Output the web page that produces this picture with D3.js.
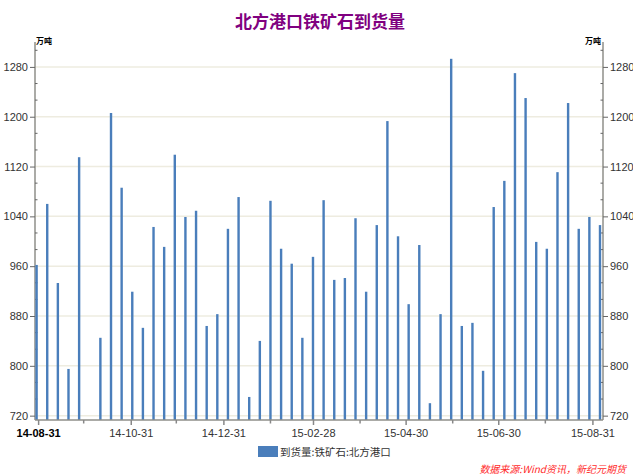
<!DOCTYPE html>
<html><head><meta charset="utf-8">
<script src="https://cdn.jsdelivr.net/npm/d3@7"></script>
<style>
html,body{margin:0;padding:0;background:#fff;}
svg{display:block;font-family:"Noto Sans","Noto Sans CJK SC",sans-serif;}
</style></head>
<body><svg id="c" width="633" height="475"></svg>
<script>
const dates = ["2014-08-30","2014-09-06","2014-09-13","2014-09-20","2014-09-27","2014-10-11","2014-10-18","2014-10-25","2014-11-01","2014-11-08","2014-11-15","2014-11-22","2014-11-29","2014-12-06","2014-12-13","2014-12-20","2014-12-27","2015-01-03","2015-01-10","2015-01-17","2015-01-24","2015-01-31","2015-02-07","2015-02-14","2015-02-21","2015-02-28","2015-03-07","2015-03-14","2015-03-21","2015-03-28","2015-04-04","2015-04-11","2015-04-18","2015-04-25","2015-05-02","2015-05-09","2015-05-16","2015-05-23","2015-05-30","2015-06-06","2015-06-13","2015-06-20","2015-06-27","2015-07-04","2015-07-11","2015-07-18","2015-07-25","2015-08-01","2015-08-08","2015-08-15","2015-08-22","2015-08-29","2015-09-05"];
const arrivals = [962,1060,933,795,1135,845,1206,1086,919,861,1023,991,1139,1039,1049,864,883,1020,1071,750,840,1065,988,964,845,975,1066,938,941,1037,919,1026,1193,1008,899,994,740,883,1293,864,869,792,1055,1097,1270,1230,999,988,1111,1222,1020,1039,1026];
const majorTickDates = ["2014-08-31","2014-10-31","2014-12-31","2015-02-28","2015-04-30","2015-06-30","2015-08-31"];
const minorTickDates = ["2014-09-30","2014-11-30","2015-01-31","2015-03-31","2015-05-31","2015-07-31"];
const yMajorTicks = [720,800,880,960,1040,1120,1200,1280];
const title = "北方港口铁矿石到货量";
const seriesName = "到货量:铁矿石:北方港口";
const unit = "万吨";
const source = "数据来源:Wind资讯，新纪元期货";

const parse = d3.timeParse("%Y-%m-%d");
const fmt = d3.timeFormat("%y-%m-%d");
const data = dates.map((d,i)=>({date:parse(d), v:arrivals[i]}));

const svg = d3.select("#c");
const L = 35, R = 603, T = 42, B = 420;
const x = d3.scaleTime().domain([parse("2014-08-30"), parse("2015-09-05")]).range([36.6, 600]);
const y = d3.scaleLinear().domain([713, 1320]).range([B, T]);

// gridlines
svg.append("g").selectAll("line").data(yMajorTicks).join("line")
  .attr("x1", L).attr("x2", R).attr("y1", d=>y(d)).attr("y2", d=>y(d))
  .attr("stroke", "#eeece0").attr("stroke-width", 1.5);

const axisColor = "#8f8f8a";
const minorY = d3.range(720, 1320, 80/3).filter((d,i)=> i%3!==0);

// left axis
const gl = svg.append("g").attr("transform", `translate(${L},0)`);
gl.call(d3.axisLeft(y).tickValues(yMajorTicks).tickSize(5).tickPadding(2).tickFormat(d3.format("d")));
gl.select(".domain").attr("stroke", axisColor).attr("stroke-width", 1.5).attr("d", `M0,${T}V${B}`);
gl.selectAll(".tick line").attr("stroke", "#666");
gl.selectAll(".tick text").attr("fill", "#333").attr("font-size", 11);
gl.append("g").selectAll("line").data(minorY).join("line")
  .attr("x1", 0).attr("x2", 2.5).attr("y1", d=>y(d)).attr("y2", d=>y(d)).attr("stroke", "#666");

// right axis
const gr = svg.append("g").attr("transform", `translate(${R},0)`);
gr.call(d3.axisRight(y).tickValues(yMajorTicks).tickSize(5).tickPadding(2).tickFormat(d3.format("d")));
gr.select(".domain").attr("stroke", axisColor).attr("stroke-width", 1.5).attr("d", `M0,${T}V${B}`);
gr.selectAll(".tick line").attr("stroke", "#666");
gr.selectAll(".tick text").attr("fill", "#333").attr("font-size", 11);
gr.append("g").selectAll("line").data(minorY).join("line")
  .attr("x1", 0).attr("x2", -2.5).attr("y1", d=>y(d)).attr("y2", d=>y(d)).attr("stroke", "#666");

// bars (on top of axes)
const bw = 2.4;
svg.append("g").selectAll("rect").data(data).join("rect")
  .attr("x", d=>x(d.date)-bw/2).attr("width", bw)
  .attr("y", d=>y(d.v)).attr("height", d=>B-y(d.v))
  .attr("fill", "#4a7ebb");

// bottom axis
const gb = svg.append("g").attr("transform", `translate(0,${B})`);
gb.call(d3.axisBottom(x).tickValues(majorTickDates.map(parse)).tickSize(5).tickPadding(4).tickFormat(fmt));
gb.select(".domain").attr("stroke", axisColor).attr("stroke-width", 1.5).attr("d", `M${L},0H${R}`);
gb.selectAll(".tick line").attr("stroke", "#888").attr("stroke-width", 1.5);
gb.selectAll(".tick text").attr("fill", "#333").attr("font-size", 11);
gb.selectAll(".tick text").filter((d,i)=>i===0).attr("fill", "#000").attr("font-weight", "bold");
gb.append("g").selectAll("line").data(minorTickDates.map(parse)).join("line")
  .attr("x1", d=>x(d)).attr("x2", d=>x(d)).attr("y1", 0).attr("y2", 3.5)
  .attr("stroke", "#888").attr("stroke-width", 1.5);

// unit labels
svg.append("text").attr("x", 36).attr("y", 44).attr("font-size", 8).attr("font-weight", "bold")
  .attr("font-family", "Noto Sans CJK SC").attr("fill", "#000").text(unit);
svg.append("text").attr("x", 601).attr("y", 44).attr("font-size", 8).attr("font-weight", "bold")
  .attr("text-anchor", "end").attr("font-family", "Noto Sans CJK SC").attr("fill", "#000").text(unit);

// title
svg.append("text").attr("x", 320).attr("y", 28).attr("text-anchor", "middle")
  .attr("font-size", 17).attr("font-weight", "bold").attr("font-family", "Noto Sans CJK SC")
  .attr("fill", "#800080").text(title);

// legend
svg.append("rect").attr("x", 258).attr("y", 446).attr("width", 20).attr("height", 11).attr("fill", "#4a7ebb");
svg.append("text").attr("x", 280).attr("y", 455.5).attr("font-size", 10.5)
  .attr("font-family", "Noto Sans CJK SC").attr("fill", "#333").text(seriesName);

// source
svg.append("text").attr("x", 626).attr("y", 473).attr("text-anchor", "end").attr("font-size", 10)
  .attr("font-style", "italic").attr("font-family", "Noto Sans CJK SC").attr("fill", "#ff2a2a").text(source);
</script></body></html>
